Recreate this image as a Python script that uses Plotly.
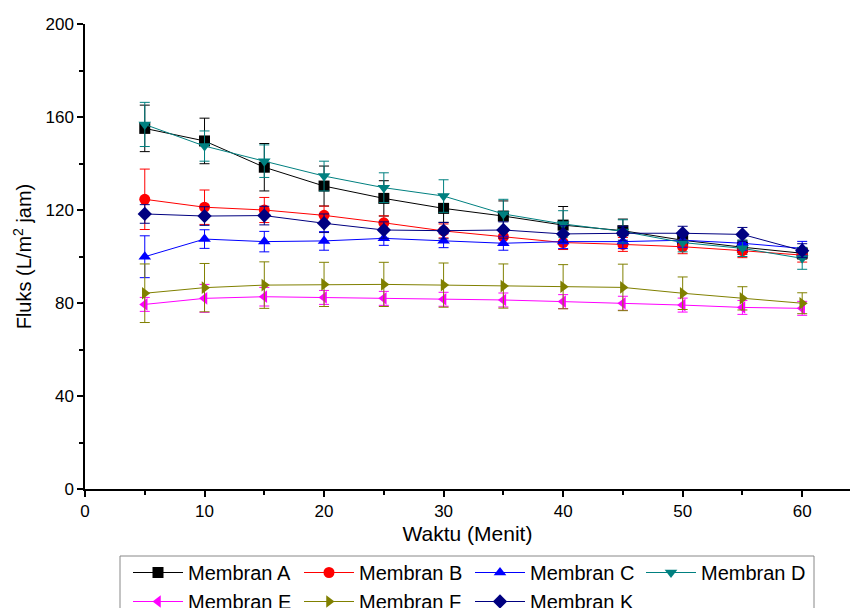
import plotly.graph_objects as go

waktu = [5, 10, 15, 20, 25, 30, 35, 40, 45, 50, 55, 60]

membran_a = [155.1, 149.7, 138.4, 130.3, 125.0, 120.7, 117.4, 113.5, 111.1, 107.0, 104.0, 101.4]
membran_b = [124.6, 121.2, 120.0, 117.7, 114.5, 111.0, 108.5, 106.0, 105.2, 104.2, 102.5, 100.6]
membran_c = [99.9, 107.5, 106.4, 106.7, 107.8, 106.8, 105.7, 106.4, 106.4, 107.0, 105.7, 103.5]
membran_d = [156.8, 147.5, 141.0, 134.6, 129.6, 126.0, 118.3, 114.0, 110.8, 106.0, 103.5, 99.2]
membran_e = [79.4, 82.0, 82.7, 82.4, 82.0, 81.6, 81.3, 80.6, 79.9, 79.1, 78.1, 77.7]
membran_f = [84.2, 86.6, 87.7, 88.0, 88.0, 87.7, 87.3, 87.0, 86.7, 84.2, 82.0, 79.9]
membran_k = [118.3, 117.4, 117.6, 114.3, 111.4, 111.1, 111.4, 109.7, 110.0, 110.0, 109.5, 102.5]

err_a = [10.0, 9.8, 10.2, 8.6, 7.6, 6.0, 6.5, 8.0, 5.0, 3.0, 3.0, 2.5]
err_b = [13.0, 7.4, 5.4, 4.0, 3.0, 3.0, 3.0, 3.0, 3.0, 3.0, 3.0, 3.0]
err_c = [9.0, 4.0, 4.4, 4.0, 3.0, 3.0, 3.0, 3.0, 3.0, 3.0, 3.0, 3.0]
err_d = [9.5, 6.5, 7.0, 6.4, 6.4, 7.0, 6.3, 5.7, 5.0, 4.0, 3.5, 4.7]
err_e = [3.0, 6.0, 4.0, 3.0, 3.0, 3.0, 3.0, 3.0, 3.0, 3.0, 3.0, 3.0]
err_f = [12.6, 10.4, 10.0, 9.5, 9.5, 9.5, 9.5, 9.5, 10.0, 7.0, 5.0, 4.5]
err_k = [4.0, 4.0, 4.0, 4.0, 3.5, 3.5, 3.5, 3.5, 3.0, 3.0, 3.0, 3.0]

series = [
    ("Membran A", membran_a, err_a, "#000000", "square"),
    ("Membran B", membran_b, err_b, "#ff0000", "circle"),
    ("Membran C", membran_c, err_c, "#0000ff", "triangle-up"),
    ("Membran D", membran_d, err_d, "#008080", "triangle-down"),
    ("Membran E", membran_e, err_e, "#ff00ff", "triangle-left"),
    ("Membran F", membran_f, err_f, "#808000", "triangle-right"),
    ("Membran K", membran_k, err_k, "#000080", "diamond"),
]

fig = go.Figure()
for name, vals, errs, color, sym in series:
    fig.add_trace(go.Scatter(
        x=waktu, y=vals, name=name, mode="lines+markers",
        line=dict(color=color, width=1),
        marker=dict(symbol=sym, size=11, color=color),
        error_y=dict(type="data", array=errs, visible=True, color=color, thickness=1, width=5),
    ))

font_family = "Liberation Sans, Arial, sans-serif"

# plot area in pixels: x 85..850, y 24..489
def px_x(p):
    return (p - 85) / 765.0

def px_y(p):
    return (489 - p) / 465.0

fig.add_shape(type="rect", xref="paper", yref="paper",
              x0=px_x(120), x1=px_x(814), y0=px_y(556), y1=px_y(640),
              line=dict(color="#888888", width=1), fillcolor="rgba(0,0,0,0)", layer="below")

fig.update_layout(
    width=850, height=608,
    paper_bgcolor="white", plot_bgcolor="white",
    margin=dict(l=85, r=0, t=24, b=119, autoexpand=False),
    font=dict(family=font_family, color="black"),
    showlegend=True,
    legend=dict(
        orientation="h", x=px_x(128), y=px_y(553), xanchor="left", yanchor="top",
        borderwidth=0, bgcolor="rgba(0,0,0,0)",
        font=dict(size=20, family=font_family, color="black"),
        entrywidth=106, entrywidthmode="pixels", itemwidth=50,
        tracegroupgap=0,
    ),
    xaxis=dict(
        range=[0, 64], showgrid=False, zeroline=False,
        showline=True, linecolor="black", linewidth=1.5,
        ticks="outside", ticklen=6, tickwidth=1.5, tickcolor="black",
        tick0=0, dtick=10, tickfont=dict(size=17),
        minor=dict(ticks="outside", ticklen=4, tickwidth=1.5, tickcolor="black", dtick=5, tick0=0),
        title=dict(text="Waktu (Menit)", font=dict(size=21), standoff=6),
    ),
    yaxis=dict(
        range=[0, 200], showgrid=False, zeroline=False,
        showline=True, linecolor="black", linewidth=1.5,
        ticks="outside", ticklen=6, tickwidth=1.5, tickcolor="black",
        tick0=0, dtick=40, tickfont=dict(size=17),
        minor=dict(ticks="outside", ticklen=4, tickwidth=1.5, tickcolor="black", dtick=20, tick0=0),
        title=dict(text="Fluks (L/m<sup>2</sup> jam)", font=dict(size=20), standoff=8),
    ),
)

fig.write_html("out.html")
